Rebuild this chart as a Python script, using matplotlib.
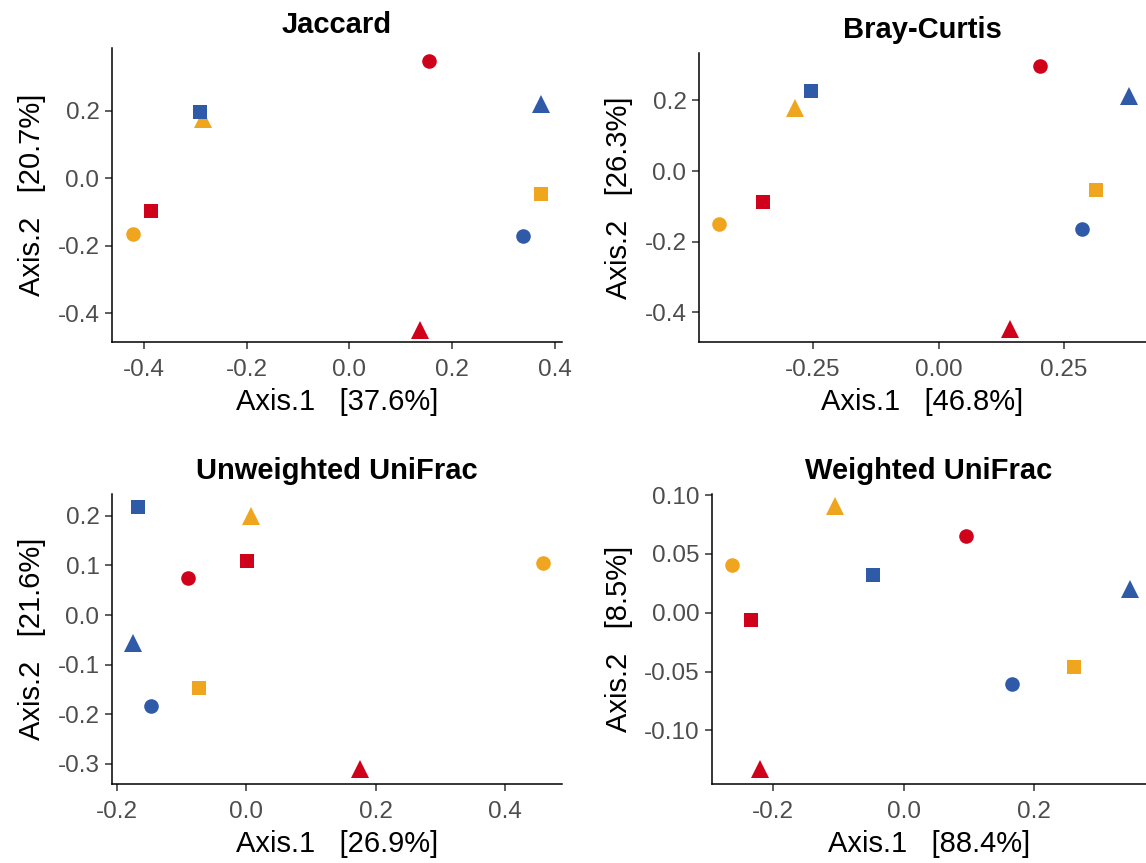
import numpy as np
import matplotlib
matplotlib.use("Agg")
import matplotlib.pyplot as plt

plt.rcParams['font.family'] = ['Liberation Sans', 'DejaVu Sans']

# order: red, blue, orange  x  circle, square, triangle
colors = ['red', 'red', 'red', 'blue', 'blue', 'blue', 'orange', 'orange', 'orange']
shapes = ['o', 's', '^', 'o', 's', '^', 'o', 's', '^']

jac_x = [0.155, -0.386, 0.138, 0.338, -0.290, 0.374, -0.422, 0.373, -0.284]
jac_y = [0.348, -0.097, -0.448, -0.170, 0.197, 0.221, -0.166, -0.048, 0.175]

bc_x = [0.201, -0.349, 0.142, 0.286, -0.254, 0.379, -0.4375, 0.313, -0.286]
bc_y = [0.297, -0.087, -0.448, -0.164, 0.227, 0.212, -0.150, -0.054, 0.178]

uu_x = [-0.090, 0.002, 0.176, -0.147, -0.1665, -0.175, 0.459, -0.073, 0.007]
uu_y = [0.075, 0.108, -0.311, -0.184, 0.217, -0.0565, 0.104, -0.147, 0.200]

wu_x = [0.095, -0.235, -0.220, 0.165, -0.048, 0.346, -0.263, 0.261, -0.106]
wu_y = [0.065, -0.0065, -0.133, -0.061, 0.032, 0.0205, 0.041, -0.046, 0.091]

titles = ['Jaccard', 'Bray-Curtis', 'Unweighted UniFrac', 'Weighted UniFrac']
pct1 = ['37.6%', '46.8%', '26.9%', '88.4%']
pct2 = ['20.7%', '26.3%', '21.6%', '8.5%']

palette = {'red': '#D0021B', 'blue': '#2E5AA8', 'orange': '#F0A51E'}
msize = {'o': 10.5, 's': 10, '^': 13}
zord = {'o': 3, 's': 3, '^': 2}

W, H = 1146, 863
fig = plt.figure(figsize=(W / 100, H / 100), dpi=100)

# axes boxes in pixels: left, right, top, bottom
boxes = [(112, 562, 48, 342), (699, 1146, 53, 342),
         (112, 562, 494, 784), (712, 1146, 494, 784)]
xlims = [(-0.462, 0.414), (-0.477, 0.413), (-0.207, 0.488), (-0.294, 0.371)]
ylims = [(-0.485, 0.386), (-0.484, 0.334), (-0.3405, 0.244), (-0.1457, 0.101)]
xticks = [[-0.4, -0.2, 0.0, 0.2, 0.4], [-0.25, 0.0, 0.25],
          [-0.2, 0.0, 0.2, 0.4], [-0.2, 0.0, 0.2]]
xticklabels = [['-0.4', '-0.2', '0.0', '0.2', '0.4'], ['-0.25', '0.00', '0.25'],
               ['-0.2', '0.0', '0.2', '0.4'], ['-0.2', '0.0', '0.2']]
yticks = [[-0.4, -0.2, 0.0, 0.2], [-0.4, -0.2, 0.0, 0.2],
          [-0.3, -0.2, -0.1, 0.0, 0.1, 0.2], [-0.10, -0.05, 0.0, 0.05, 0.10]]
yticklabels = [['-0.4', '-0.2', '0.0', '0.2'], ['-0.4', '-0.2', '0.0', '0.2'],
               ['-0.3', '-0.2', '-0.1', '0.0', '0.1', '0.2'],
               ['-0.10', '-0.05', '0.00', '0.05', '0.10']]

data = [(jac_x, jac_y), (bc_x, bc_y), (uu_x, uu_y), (wu_x, wu_y)]

for i in range(4):
    l, r, t, b = boxes[i]
    ax = fig.add_axes([l / W, 1 - b / H, (r - l) / W, (b - t) / H])
    xs, ys = data[i]
    for x, y, c, m in zip(xs, ys, colors, shapes):
        ax.plot(x, y, marker=m, color=palette[c], markersize=msize[m],
                linestyle='none', clip_on=False, markeredgewidth=0,
                zorder=zord[m])
    ax.set_xlim(xlims[i])
    ax.set_ylim(ylims[i])
    ax.set_xticks(xticks[i])
    ax.set_xticklabels(xticklabels[i])
    ax.set_yticks(yticks[i])
    ax.set_yticklabels(yticklabels[i])
    for s in ['top', 'right']:
        ax.spines[s].set_visible(False)
    for s in ['left', 'bottom']:
        ax.spines[s].set_linewidth(1.1)
        ax.spines[s].set_color('black')
    ax.tick_params(axis='x', pad=7)
    ax.tick_params(axis='y', pad=4)
    ax.tick_params(length=5, width=1.1, color='#333333', labelcolor='#4d4d4d',
                   labelsize=17.5)
    ax.set_xlabel('Axis.1   [' + pct1[i] + ']', fontsize=21, labelpad=5)
    ax.set_ylabel('Axis.2   [' + pct2[i] + ']', fontsize=21, labelpad=8)
    ax.set_title(titles[i], fontsize=21, fontweight='bold', pad=11)

fig.savefig('out.png', dpi=100)
